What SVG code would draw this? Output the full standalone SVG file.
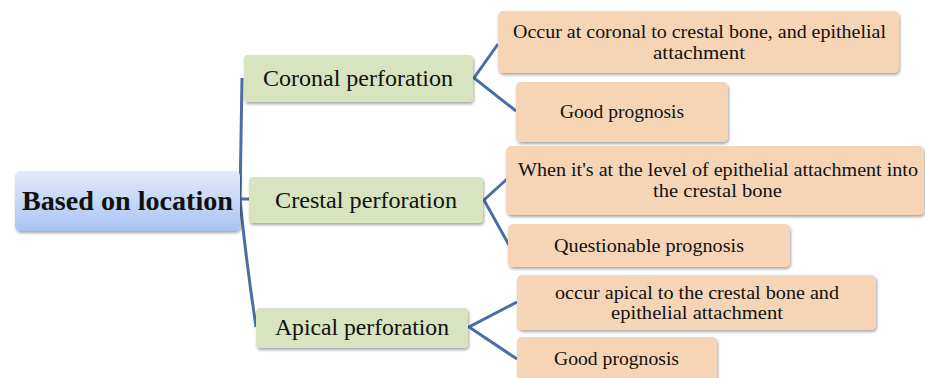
<svg xmlns="http://www.w3.org/2000/svg" width="925" height="378" viewBox="0 0 925 378">
<defs>
<linearGradient id="rootGrad" x1="0" y1="0" x2="0" y2="1">
<stop offset="0" stop-color="#e2eafb"/>
<stop offset="1" stop-color="#a9c4f2"/>
</linearGradient>
<filter id="sh" x="-10%" y="-20%" width="120%" height="150%">
<feDropShadow dx="1" dy="2" stdDeviation="1.5" flood-color="#000" flood-opacity="0.35"/>
</filter>
</defs>
<style>
.root{fill:url(#rootGrad);filter:url(#sh)}
.mid{fill:#d8e4bf;filter:url(#sh)}
.leaf{fill:#f6d5b7;filter:url(#sh)}
.t{font-family:"Liberation Serif","Times New Roman",serif;fill:#111;text-anchor:middle}
.tr{font-size:27px;font-weight:bold}
.tm{font-size:23px}
.tl{font-size:19px}
.con{fill:none;stroke:#4a6ea8;stroke-width:3;stroke-linejoin:miter}
</style>
<rect width="925" height="378" fill="#fff"/>
<g id="connectors">
<path class="con" d="M242,78 L240,200 Q246,260 256,327"/>
<path class="con" d="M240,199 L249,199"/>
<path class="con" d="M498,44 L474,78 L516,111"/>
<path class="con" d="M507,179 L484,200 L509,245"/>
<path class="con" d="M517,302 L469,327 L517,359"/>
</g>
<g id="root">
<rect class="root" x="15" y="171" width="225" height="60" rx="5"/>
<text class="t tr" x="127.5" y="210" textLength="211" lengthAdjust="spacingAndGlyphs">Based on location</text>
</g>
<g id="coronal">
<rect class="mid" x="244" y="55" width="229" height="47" rx="4"/>
<text class="t tm" x="358" y="86" textLength="190" lengthAdjust="spacingAndGlyphs">Coronal perforation</text>
</g>
<g id="crestal">
<rect class="mid" x="249" y="177" width="234" height="46" rx="4"/>
<text class="t tm" x="366" y="208" textLength="182" lengthAdjust="spacingAndGlyphs">Crestal perforation</text>
</g>
<g id="apical">
<rect class="mid" x="256" y="308" width="212" height="40" rx="4"/>
<text class="t tm" x="362" y="335" textLength="174" lengthAdjust="spacingAndGlyphs">Apical perforation</text>
</g>
<g id="leaf1">
<rect class="leaf" x="498" y="11" width="401" height="62" rx="5"/>
<text class="t tl" x="699.5" y="38" textLength="373" lengthAdjust="spacingAndGlyphs">Occur at coronal to crestal bone, and epithelial</text>
<text class="t tl" x="699" y="59" textLength="92" lengthAdjust="spacingAndGlyphs">attachment</text>
</g>
<g id="leaf2">
<rect class="leaf" x="516" y="82" width="212" height="60" rx="5"/>
<text class="t tl" x="622" y="118" textLength="124" lengthAdjust="spacingAndGlyphs">Good prognosis</text>
</g>
<g id="leaf3">
<rect class="leaf" x="506" y="146" width="418" height="69" rx="5"/>
<text class="t tl" x="718" y="176" textLength="400" lengthAdjust="spacingAndGlyphs">When it's at the level of epithelial attachment into</text>
<text class="t tl" x="717.5" y="197" textLength="129" lengthAdjust="spacingAndGlyphs">the crestal bone</text>
</g>
<g id="leaf4">
<rect class="leaf" x="508" y="224" width="282" height="43" rx="5"/>
<text class="t tl" x="649" y="252" textLength="190" lengthAdjust="spacingAndGlyphs">Questionable prognosis</text>
</g>
<g id="leaf5">
<rect class="leaf" x="517" y="275" width="359" height="55" rx="5"/>
<text class="t tl" x="697" y="299" textLength="284" lengthAdjust="spacingAndGlyphs">occur apical to the crestal bone and</text>
<text class="t tl" x="697" y="319" textLength="172" lengthAdjust="spacingAndGlyphs">epithelial attachment</text>
</g>
<g id="leaf6">
<rect class="leaf" x="517" y="337" width="200" height="50" rx="5"/>
<text class="t tl" x="616.5" y="365" textLength="125" lengthAdjust="spacingAndGlyphs">Good prognosis</text>
</g>
</svg>
